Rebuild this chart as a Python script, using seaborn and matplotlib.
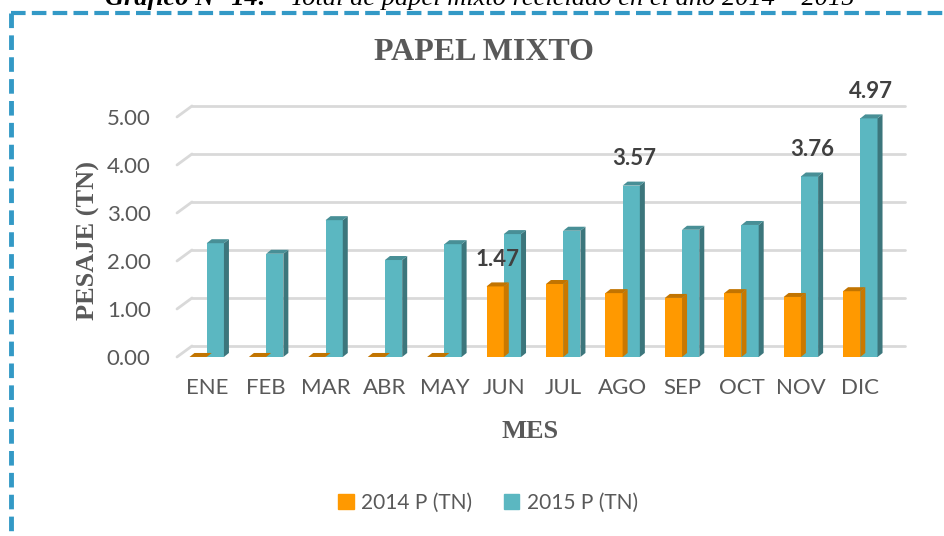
import matplotlib
matplotlib.use("Agg")
import matplotlib.pyplot as plt
import matplotlib.transforms as mtransforms
from matplotlib.patches import Polygon, Rectangle
import seaborn as sns
import pandas as pd

# datos
meses = ["ENE", "FEB", "MAR", "ABR", "MAY", "JUN", "JUL", "AGO", "SEP", "OCT", "NOV", "DIC"]
p2014 = [0.0, 0.0, 0.0, 0.0, 0.0, 1.47, 1.52, 1.33, 1.23, 1.33, 1.25, 1.37]
p2015 = [2.37, 2.15, 2.85, 2.02, 2.35, 2.56, 2.63, 3.57, 2.65, 2.75, 3.76, 4.97]
series = ["2014 P (TN)", "2015 P (TN)"]
yticks = [0, 1, 2, 3, 4, 5]
# etiquetas de datos visibles: (serie, mes)
etiquetas = [(0, "JUN"), (1, "AGO"), (1, "NOV"), (1, "DIC")]

front = ["#FF9900", "#5BB7C1"]
side = ["#C97800", "#3C767C"]
top = ["#C27400", "#488F96"]
gris = "#595959"

df = pd.DataFrame({
    "mes": meses * 2,
    "valor": p2014 + p2015,
    "serie": [series[0]] * len(meses) + [series[1]] * len(meses),
})

sns.set_theme(style="white")
plt.rcParams["font.family"] = ["Lato", "DejaVu Sans"]

fig = plt.figure(figsize=(9.45, 5.36), dpi=100)
ax = fig.add_axes([0.1873, 0.3340, 0.7545, 0.4478])

sns.barplot(data=df, x="mes", y="valor", hue="serie", palette=front,
            width=0.58, ax=ax, zorder=3, linewidth=0, saturation=1)
ax.set_xlim(-0.5, len(meses) - 0.5)
ax.set_ylim(0, 5)
sns.despine(ax=ax, left=True, bottom=True)
ax.tick_params(length=0)
ax.set_yticks(yticks)
ax.set_yticklabels([f"{v:.2f}" for v in yticks], fontsize=16, color=gris)
ax.tick_params(axis="y", pad=19)
ax.tick_params(axis="x", pad=15, labelsize=16, labelcolor=gris)
ax.set_xlabel("")
ax.set_ylabel("")

# rejilla en perspectiva (pared del fondo)
gx, gy = 15, 11
back = mtransforms.offset_copy(ax.get_yaxis_transform(), fig=fig, x=gx, y=gy, units="dots")
front_tr = ax.get_yaxis_transform()
for v in yticks:
    ax.plot([0, 1], [v, v], transform=back, color="#D9D9D9", lw=2, zorder=1, clip_on=False)
    p0 = front_tr.transform((0, v))
    p1 = back.transform((0, v))
    ax.plot([p0[0], p1[0]], [p0[1], p1[1]], transform=None, color="#D9D9D9", lw=2,
            zorder=1, clip_on=False)

# caras laterales y superiores de las barras (efecto 3D)
dx_px, dy_px = 5, 4
fig.canvas.draw()
bb = ax.get_window_extent()
dx = dx_px * (len(meses)) / bb.width
dy = dy_px * 5 / bb.height
for i, cont in enumerate(ax.containers):
    for bar in cont:
        x0, w, h = bar.get_x(), bar.get_width(), bar.get_height()
        ax.add_patch(Polygon([(x0 + w, 0), (x0 + w, h), (x0 + w + dx, h + dy), (x0 + w + dx, dy)],
                             closed=True, facecolor=side[i], lw=0, zorder=3, clip_on=False))
        ax.add_patch(Polygon([(x0, h), (x0 + w, h), (x0 + w + dx, h + dy), (x0 + dx, h + dy)],
                             closed=True, facecolor=top[i], lw=0, zorder=3, clip_on=False))

for s, mes in etiquetas:
    bar = ax.containers[s][meses.index(mes)]
    val = (p2014, p2015)[s][meses.index(mes)]
    ax.annotate(f"{val:.2f}", (bar.get_x() + bar.get_width() / 2 + dx / 2, val + dy),
                xytext=(0, 9), textcoords="offset points", ha="center", va="bottom",
                fontsize=16, fontweight="bold", color="#404040", zorder=5,
                annotation_clip=False)

# leyenda
ax.get_legend().remove()
handles = [Rectangle((0, 0), 1, 1, color=c) for c in front]
fig.legend(handles, series, loc="center", bbox_to_anchor=(488 / 945, 1 - 503 / 536), ncol=2,
           frameon=False, fontsize=15, labelcolor=gris, handlelength=0.75, handleheight=0.75,
           handletextpad=0.35, columnspacing=1.5)

serif = ["Liberation Serif", "DejaVu Serif"]
fig.text(484 / 945, 1 - 52 / 536, "PAPEL MIXTO", ha="center", va="center", family=serif,
         fontsize=23, fontweight="bold", color=gris)
fig.text(88 / 945, 1 - 240 / 536, "PESAJE (TN)", ha="center", va="center", rotation=90,
         family=serif, fontsize=19, fontweight="bold", color=gris)
fig.text(530 / 945, 1 - 431 / 536, "MES", ha="center", va="center", family=serif,
         fontsize=19, fontweight="bold", color=gris)

# titulo del documento (cortado arriba) y marco punteado
fig.text(105 / 945, 1 - 5 / 536, "Gráfico N° 14:", ha="left", va="baseline", family=serif,
         fontsize=19, fontweight="bold", style="italic", color="black")
fig.text(290 / 945, 1 - 5 / 536, "Total de papel mixto reciclado en el año 2014 – 2015",
         ha="left", va="baseline", family=serif, fontsize=19, style="italic", color="black")
fig.add_artist(plt.Line2D([11 / 945, 11 / 945], [1 - 13 / 536, 0], color="#3399C6", lw=3.5,
                          linestyle=(0, (3, 1.5)), transform=fig.transFigure))
fig.add_artist(plt.Line2D([11 / 945, 1], [1 - 13 / 536, 1 - 13 / 536], color="#3399C6", lw=3,
                          linestyle=(0, (3.5, 1.5)), transform=fig.transFigure))

fig.savefig("out.png", dpi=100)
